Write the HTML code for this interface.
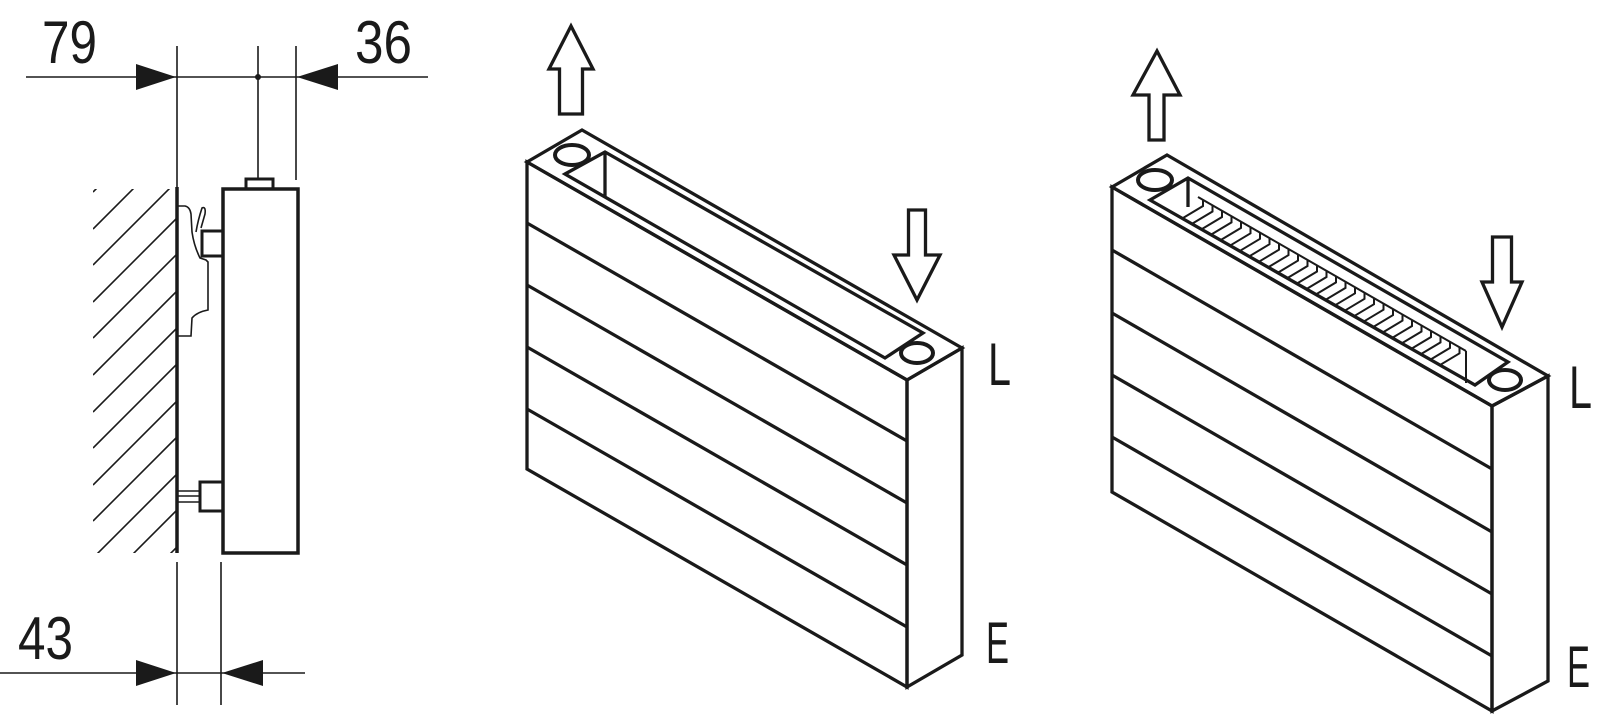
<!DOCTYPE html>
<html><head><meta charset="utf-8"><style>
html,body{margin:0;padding:0;background:#fff;}
svg{display:block;}
text{font-family:"Liberation Sans",sans-serif;fill:#1a1a1a;}
</style></head><body>
<svg width="1600" height="715" viewBox="0 0 1600 715" xmlns="http://www.w3.org/2000/svg">
<defs>
<clipPath id="hc"><rect x="93" y="189" width="84" height="364"/></clipPath>
</defs>
<g stroke="#1a1a1a" fill="none" stroke-linejoin="miter">
<!-- LEFT DIAGRAM -->
<g stroke-width="1.6">
<line x1="26" y1="77" x2="428" y2="77"/>
<line x1="177" y1="46" x2="177" y2="189"/>
<line x1="258" y1="46" x2="258" y2="179"/>
<line x1="296" y1="46" x2="296" y2="180"/>
<line x1="0" y1="673" x2="305" y2="673"/>
<line x1="177" y1="562" x2="177" y2="705"/>
<line x1="221" y1="562" x2="221" y2="705"/>
</g>
<circle cx="258" cy="77" r="3" fill="#1a1a1a" stroke="none"/>
<g fill="#1a1a1a" stroke="none">
<polygon points="136,64 176,77 136,90"/>
<polygon points="338,64 297,77 338,90"/>
<polygon points="136,660 176,673 136,686"/>
<polygon points="263,660 222,673 263,686"/>
</g>
<g stroke-width="1.6" clip-path="url(#hc)">
<line x1="93" y1="192" x2="177" y2="108"/>
<line x1="93" y1="229" x2="177" y2="145"/>
<line x1="93" y1="265" x2="177" y2="181"/>
<line x1="93" y1="302" x2="177" y2="218"/>
<line x1="93" y1="338" x2="177" y2="254"/>
<line x1="93" y1="375" x2="177" y2="291"/>
<line x1="93" y1="412" x2="177" y2="328"/>
<line x1="93" y1="448" x2="177" y2="364"/>
<line x1="93" y1="485" x2="177" y2="401"/>
<line x1="93" y1="521" x2="177" y2="437"/>
<line x1="93" y1="558" x2="177" y2="474"/>
<line x1="93" y1="594" x2="177" y2="510"/>
<line x1="93" y1="631" x2="177" y2="547"/>
</g>
<line x1="177" y1="187" x2="177" y2="553" stroke-width="3.5"/>
<rect x="223" y="189" width="75" height="364" stroke-width="3.5"/>
<rect x="246" y="179" width="27" height="10" stroke-width="3"/>
<rect x="202" y="231" width="21" height="25" stroke-width="3"/>
<rect x="200" y="482" width="23" height="29" stroke-width="3"/>
<g stroke-width="1.6">
<line x1="178" y1="491" x2="200" y2="491"/>
<line x1="178" y1="496" x2="200" y2="496"/>
<line x1="178" y1="502" x2="200" y2="502"/>
<path d="M178,206 L185,206 Q190,207 191,214 L192,232 Q194,246 200,258 L206,260 L208,262 L208,310 Q197,312 192,318 L191,336 L178,336"/>
<path d="M196,232 Q198,220 202,208 Q206,206 205,214 L201,228"/>
</g>
<!-- MIDDLE RADIATOR -->
<g stroke-width="3.3">
<polygon points="527,162 907,380 907,687 527,469"/>
<polygon points="527,162 582,130 962,348 907,380"/>
<polygon points="907,380 962,348 962,655 907,687"/>
<line x1="527" y1="223" x2="907" y2="441"/>
<line x1="527" y1="285" x2="907" y2="503"/>
<line x1="527" y1="347" x2="907" y2="565"/>
<line x1="527" y1="409" x2="907" y2="627"/>
<polygon points="565,174 605,152 923,333 885,358"/>
<line x1="605" y1="152" x2="605" y2="196"/>
<ellipse cx="572" cy="155" rx="17" ry="10" fill="#fff" stroke-width="4"/>
<ellipse cx="917" cy="353" rx="16" ry="10" fill="#fff" stroke-width="4"/>
<polygon points="571,26 593,69 582.5,69 582.5,114 559.5,114 559.5,69 549,69" fill="#fff"/>
<polygon points="908.5,210 925.5,210 925.5,255 940,255 917,300 894,255 908.5,255" fill="#fff"/>
</g>
<!-- RIGHT RADIATOR -->
<g stroke-width="3.3">
<polygon points="1112,187 1492,406 1492,711 1112,492"/>
<polygon points="1112,187 1167,155 1548,376 1492,406"/>
<polygon points="1492,406 1548,376 1548,681 1492,711"/>
<line x1="1112" y1="250" x2="1492" y2="469"/>
<line x1="1112" y1="313" x2="1492" y2="532"/>
<line x1="1112" y1="375" x2="1492" y2="594"/>
<line x1="1112" y1="437" x2="1492" y2="656"/>
<polygon points="1150,200 1188,178 1508,362 1475,385"/>
<line x1="1188" y1="178" x2="1188" y2="207"/>
<polygon points="1157,51 1180,95 1164,95 1164,140 1149,140 1149,95 1133,95" fill="#fff"/>
<polygon points="1492.5,237 1511.5,237 1511.5,282 1522,282 1502,327 1482,282 1492.5,282" fill="#fff"/>
</g>
<g stroke-width="2">
<line x1="1198" y1="197" x2="1466" y2="351"/>
<line x1="1466" y1="351" x2="1466" y2="383"/>
<path d="M1203,200 v6 l-20,12 M1212.5,205.5 v6 l-20,12 M1222,211 v6 l-20,12 M1231.5,216.4 v6 l-20,12 M1241,221.9 v6 l-20,12 M1250.5,227.3 v6 l-20,12 M1260,232.8 v6 l-20,12 M1269.5,238.2 v6 l-20,12 M1279,243.7 v6 l-20,12 M1288.5,249.1 v6 l-20,12 M1298,254.6 v6 l-20,12 M1307.5,260 v6 l-20,12 M1317,265.5 v6 l-20,12 M1326.5,271 v6 l-20,12 M1336,276.4 v6 l-20,12 M1345.5,281.9 v6 l-20,12 M1355,287.3 v6 l-20,12 M1364.5,292.8 v6 l-20,12 M1374,298.2 v6 l-20,12 M1383.5,303.7 v6 l-20,12 M1393,309.1 v6 l-20,12 M1402.5,314.6 v6 l-20,12 M1412,320 v6 l-20,12 M1421.5,325.5 v6 l-20,12 M1431,331 v6 l-20,12 M1440.5,336.4 v6 l-20,12 M1450,341.9 v6 l-20,12 M1459.5,347.3 v6 l-20,12"/>
</g>
<ellipse cx="1155" cy="180" rx="17" ry="10" fill="#fff" stroke-width="4"/>
<ellipse cx="1505" cy="380" rx="16" ry="10" fill="#fff" stroke-width="4"/>
</g>
<text x="42" y="63" font-size="60" textLength="55" lengthAdjust="spacingAndGlyphs">79</text>
<text x="355" y="63" font-size="60" textLength="57" lengthAdjust="spacingAndGlyphs">36</text>
<text x="18" y="659" font-size="60" textLength="55" lengthAdjust="spacingAndGlyphs">43</text>
<text x="988" y="385" font-size="60" textLength="23" lengthAdjust="spacingAndGlyphs">L</text>
<text x="986" y="663" font-size="58" textLength="23" lengthAdjust="spacingAndGlyphs">E</text>
<text x="1569" y="408" font-size="60" textLength="23" lengthAdjust="spacingAndGlyphs">L</text>
<text x="1567" y="687" font-size="58" textLength="23" lengthAdjust="spacingAndGlyphs">E</text>
</svg>
</body></html>
